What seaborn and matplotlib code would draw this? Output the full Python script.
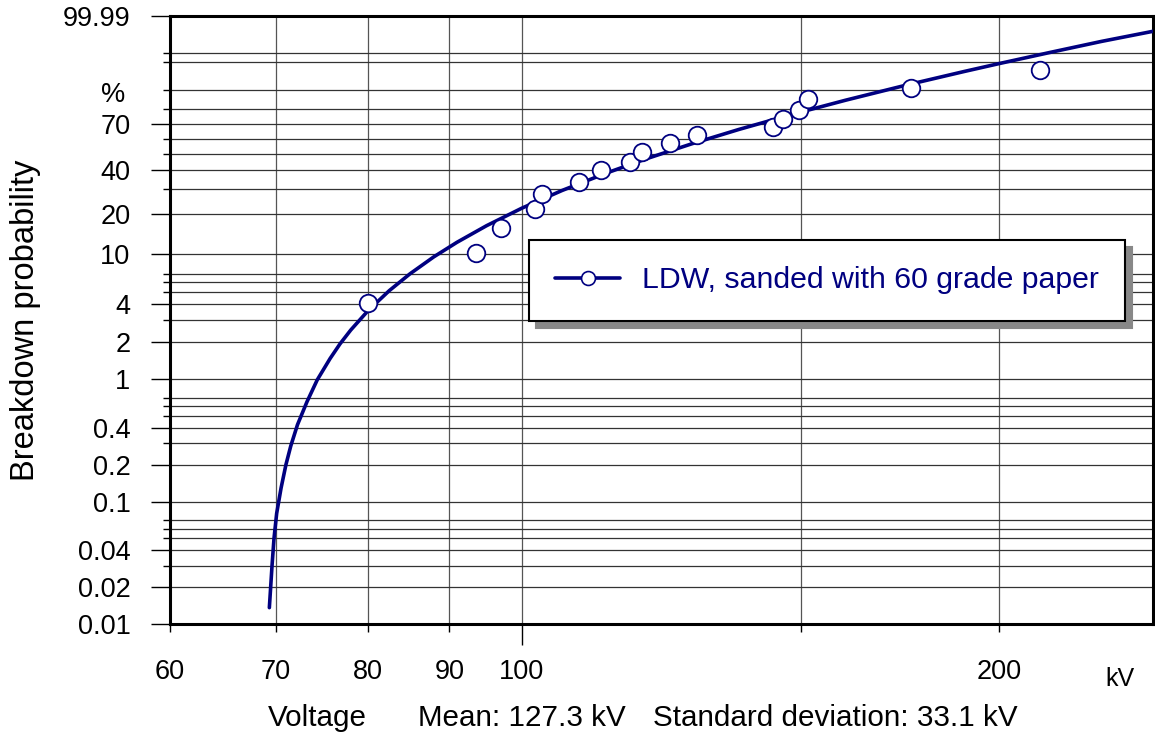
import numpy as np
import pandas as pd
import matplotlib
matplotlib.use('Agg')
import matplotlib.pyplot as plt
from matplotlib.lines import Line2D
from matplotlib.ticker import NullLocator, FixedLocator
import seaborn as sns

sns.set_style('white')
plt.rcParams['font.family'] = ['Liberation Sans', 'DejaVu Sans']
plt.rcParams['text.color'] = 'black'
plt.rcParams['xtick.color'] = 'black'
plt.rcParams['ytick.color'] = 'black'

# measured breakdown voltages (kV) and their plotted probabilities (%)
volt = [80.0, 93.5, 97.0, 101.9, 103.0, 108.6, 112.1, 117.0, 119.0, 124.0,
        129.0, 143.9, 146.1, 149.6, 151.6, 176.0, 212.2]
prob = [4.1, 10.1, 15.8, 21.7, 27.6, 33.4, 39.7, 44.9, 51.1, 57.1,
        62.6, 68.1, 73.7, 79.4, 85.4, 90.9, 96.4]

# fitted distribution line
curve_kv = [69.31, 69.58, 69.78, 70.05, 70.26, 70.5, 71.0, 71.5, 72.2, 73.2,
            74.3, 75.7, 76.8, 78.0, 80.0, 82.5, 85.0, 88.0, 91.0, 95.0, 100.0,
            106.0, 113.0, 120.0, 128.0, 137.0, 148.0, 160.0, 175.0, 190.0,
            200.0, 215.0, 232.0, 250.0]
curve_pct = [0.0136, 0.030, 0.050, 0.080, 0.10, 0.129, 0.20, 0.284, 0.423, 0.65,
             0.98, 1.46, 1.92, 2.48, 3.56, 5.14, 6.97, 9.47, 12.25, 16.36, 22.0,
             29.27, 38.09, 46.92, 56.56, 66.39, 76.48, 84.91, 91.99, 96.09,
             97.69, 99.02, 99.67, 99.9]

x_ticks = [60, 70, 80, 90, 100, 150, 200]
x_labels = ['60', '70', '80', '90', '100', '', '200']
y_major = [0.01, 0.02, 0.04, 0.1, 0.2, 0.4, 1, 2, 4, 10, 20, 40, 70, 99.99]
y_labels = ['0.01', '0.02', '0.04', '0.1', '0.2', '0.4', '1', '2', '4',
            '10', '20', '40', '70', '99.99']
y_minor = [0.03, 0.05, 0.06, 0.07, 0.3, 0.5, 0.6, 0.7, 3, 5, 6, 7,
           30, 50, 60, 80, 90, 98, 99]

navy = '#000080'


def weib_fwd(p):
    p = np.clip(np.asarray(p, dtype=float), 1e-9, 100 - 1e-9)
    return np.log(-np.log(1 - p / 100.0))


def weib_inv(y):
    return 100.0 * (1 - np.exp(-np.exp(np.asarray(y, dtype=float))))


fig = plt.figure(figsize=(11.55, 7.35), dpi=100)
ax = fig.add_axes([170 / 1155, 1 - 624 / 735, (1153 - 170) / 1155, (624 - 16) / 735])
ax.set_xscale('log')
ax.set_yscale('function', functions=(weib_fwd, weib_inv))

df_line = pd.DataFrame({'kv': curve_kv, 'pct': curve_pct})
df_pts = pd.DataFrame({'kv': volt, 'pct': prob})

sns.lineplot(data=df_line, x='kv', y='pct', ax=ax, color=navy, lw=2.6,
             sort=False, estimator=None, zorder=3)
sns.scatterplot(data=df_pts, x='kv', y='pct', ax=ax, s=160, marker='o',
                facecolor='white', edgecolor=navy, linewidth=1.3, zorder=4)

ax.set_xlim(60, 250)
ax.set_ylim(0.01, 99.99)
ax.set_xlabel('')
ax.set_ylabel('')

# axes ticks
ax.xaxis.set_major_locator(FixedLocator(x_ticks))
ax.set_xticklabels(x_labels)
ax.xaxis.set_minor_locator(NullLocator())
ax.yaxis.set_major_locator(FixedLocator(y_major))
ax.set_yticklabels(y_labels)
ax.yaxis.set_minor_locator(FixedLocator(y_minor))
ax.yaxis.set_minor_formatter(plt.NullFormatter())

ax.tick_params(axis='y', which='major', length=13.5, width=1.0, pad=15,
               labelsize=19.5, direction='out', left=True)
ax.tick_params(axis='y', which='minor', length=5, width=1.0, direction='out', left=True)
ax.tick_params(axis='x', which='major', length=6, width=1.0, pad=19,
               labelsize=19.5, direction='out', bottom=True)
# longer tick at 100 kV
ax.xaxis.get_major_ticks()[4].tick1line.set_markersize(15)

ax.grid(True, which='both', axis='y', color='#333333', lw=0.9)
ax.grid(True, which='major', axis='x', color='#555555', lw=0.9)
ax.set_axisbelow(True)

for sp in ax.spines.values():
    sp.set_visible(True)
    sp.set_color('black')
    sp.set_linewidth(2.2)

# legend
handle = Line2D([], [], color=navy, lw=2.6, marker='o', markersize=10,
                markerfacecolor='white', markeredgecolor=navy, markeredgewidth=1.2)
leg = fig.legend([handle], ['LDW, sanded with 60 grade paper'], loc='upper left',
                 bbox_to_anchor=(529 / 1155, 1 - 240 / 735), bbox_transform=fig.transFigure,
                 fontsize=21.8, frameon=True, fancybox=False, borderaxespad=0,
                 borderpad=0.87, handlelength=2.15, handletextpad=0.72, numpoints=1,
                 shadow={'ox': 5, 'oy': -5, 'color': '#888888', 'alpha': 1})
leg.get_frame().set_edgecolor('black')
leg.get_frame().set_linewidth(1.5)
for t in leg.get_texts():
    t.set_color(navy)

# extra texts
fig.text(113 / 1155, 1 - 95 / 735, '%', ha='center', va='center', fontsize=19.5)
fig.text(1105 / 1155, 1 - 679 / 735, 'kV', ha='left', va='center', fontsize=18)
fig.text(26 / 1155, 1 - 320 / 735, 'Breakdown probability', rotation=90,
         ha='center', va='center', fontsize=23.5)
fig.text(268 / 1155, 1 - 718 / 735, 'Voltage', ha='left', va='center', fontsize=21.3)
fig.text(418 / 1155, 1 - 718 / 735, 'Mean: 127.3 kV', ha='left', va='center', fontsize=21.3)
fig.text(653 / 1155, 1 - 718 / 735, 'Standard deviation: 33.1 kV', ha='left',
         va='center', fontsize=21.3)

fig.savefig('out.png', dpi=100)
